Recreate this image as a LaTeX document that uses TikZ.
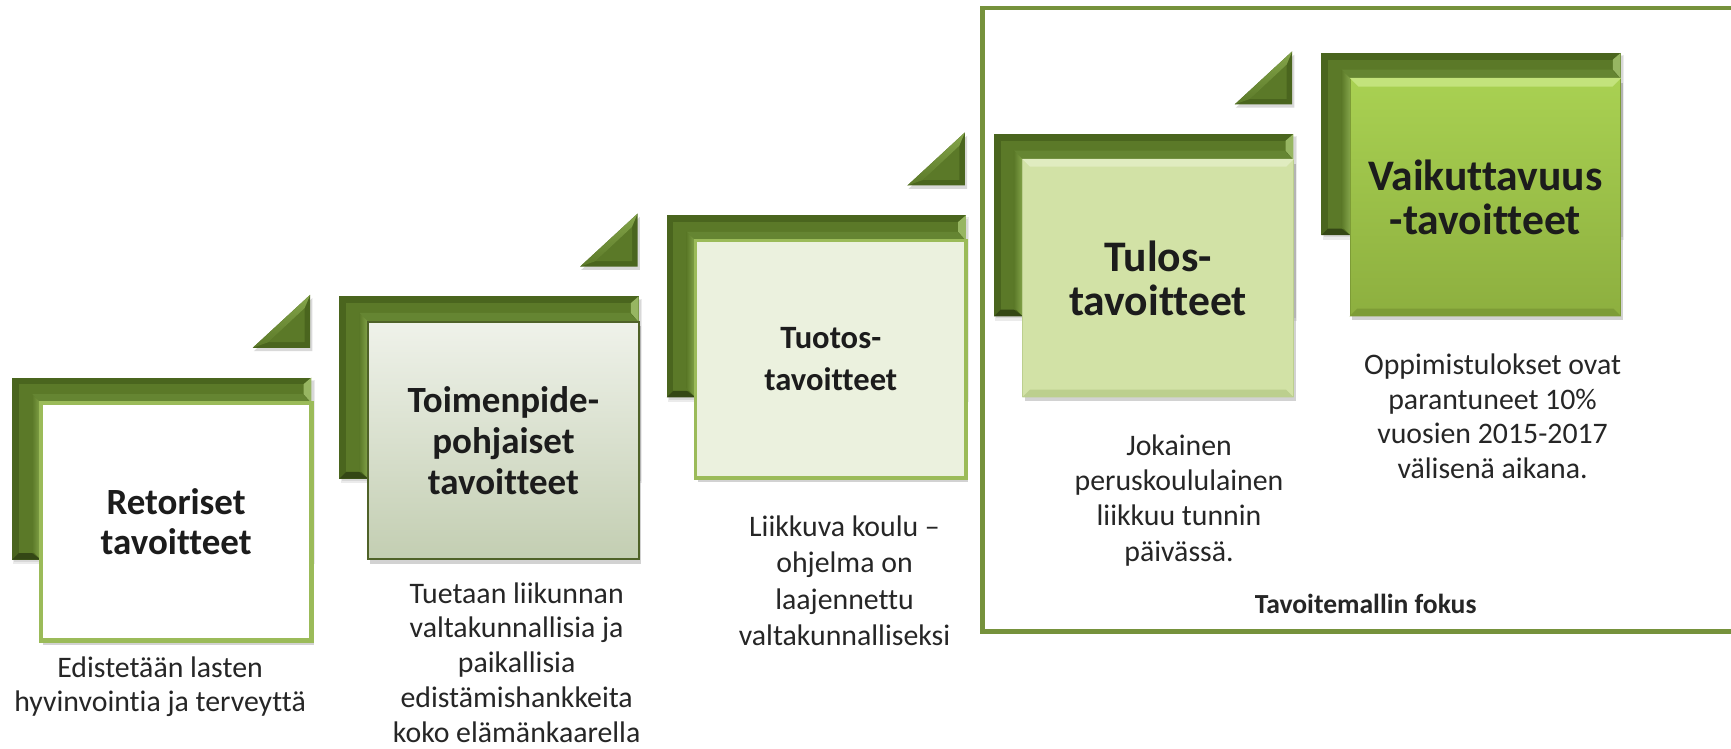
\documentclass[tikz,border=0pt]{standalone}
\usepackage{fontspec}
\setmainfont{Carlito}[Ligatures={NoCommon}]
\usetikzlibrary{shadows,calc}
\definecolor{brkE}{HTML}{4A651E}
\definecolor{brkF}{HTML}{5B7928}
\definecolor{brkT}{HTML}{658532}
\definecolor{brkL}{HTML}{84A54A}
\definecolor{brkC}{HTML}{97B662}
\definecolor{framec}{HTML}{76923C}
\definecolor{lgreen}{HTML}{9BBB59}
\definecolor{titlec}{HTML}{1C1C1C}
\definecolor{descc}{HTML}{262626}
\definecolor{btwo}{HTML}{4F6228}
\definecolor{btwotop}{HTML}{EFF2EA}
\definecolor{btwobot}{HTML}{C3CEB2}
\definecolor{bthree}{HTML}{EBF1DE}
\definecolor{bfour}{HTML}{D2E2A6}
\definecolor{bfourhi}{HTML}{E0ECC0}
\definecolor{bfourlo}{HTML}{BCCF8E}
\definecolor{bfivetop}{HTML}{A9D152}
\definecolor{bfivebot}{HTML}{8DAF3F}
\definecolor{bfivehi}{HTML}{C3E37C}
\definecolor{bfivelo}{HTML}{7D9C36}
\newcommand{\stepbracket}[3]{%
\begin{scope}[shift={(#1,#2)}]
  \fill[black,opacity=.08] (1,2) rectangle (274,169);
  \fill[black,opacity=.08] (2,3) rectangle (273,167);
  \fill[brkE] (0,0) rectangle (271,165);
  \fill[brkF] (6,6) rectangle (265,159);
  \fill[brkT] (18,15) -- (263,15) -- (271,23) -- (26,23) -- cycle;
  \shade[left color=brkF, right color=brkL] (18,15) -- (26,23) -- (26,165) -- (18,157) -- cycle;
  \fill[brkC] (264,6) -- (271,0) -- (271,23) -- (264,15) -- cycle;
  \fill[black!30!brkE] (0,165) -- (6,159) -- (18,159) -- (26,165) -- cycle;
  \ifnum#3=1
    \fill[black,opacity=.15] (219,-24) -- (272,-24) -- (272,-72) -- cycle;
    \fill[brkE] (218,-27) -- (270,-27) -- (270,-75) -- cycle;
    \fill[brkF] (232,-32) -- (265,-32) -- (265,-63) -- cycle;
    \shade[top color=brkL, bottom color=brkF] (218,-27) -- (270,-75) -- (265,-63) -- (232,-32) -- cycle;
  \fi
\end{scope}}
\tikzset{
  boxbase/.style={minimum width=245pt, minimum height=215pt, inner sep=0pt, align=center,
    text=titlec, drop shadow={shadow xshift=2pt, shadow yshift=-4pt, opacity=.25, fill=black!70}},
  ttl/.style={font=\bfseries\fontsize{33.5}{37}\selectfont},
  ttlsmall/.style={font=\bfseries\fontsize{29.5}{38}\selectfont},
  ttlbig/.style={font=\bfseries\fontsize{39.5}{40}\selectfont},
  desc/.style={align=center, text=descc, inner sep=0pt},
  fokus/.style={font=\bfseries\fontsize{25}{28}\selectfont, text=descc, inner sep=0pt},
}
\begin{document}
\begin{tikzpicture}[x=1pt,y=-1pt]
\useasboundingbox (0,0) rectangle (1568,678.4);
\fill[white] (0,0) rectangle (1568,678.4);
% focus frame
\node[draw=framec, line width=4pt, minimum width=685pt, minimum height=565pt, inner sep=0pt] (frame) at (1232.5,289.5) {};
% brackets and triangles
\stepbracket{11}{342}{1}
\stepbracket{307.5}{268.5}{1}
\stepbracket{604}{195}{1}
\stepbracket{900.5}{121.5}{1}
\stepbracket{1197}{48}{0}
% boxes
\node[boxbase, ttl, fill=white, draw=lgreen, line width=4pt] (b1) at (159.5,472.5) {Retoriset\\tavoitteet};
\node[boxbase, ttl, top color=btwotop, bottom color=btwobot, draw=btwo, line width=2pt] (b2) at (456,399) {Toimenpide-\\pohjaiset\\tavoitteet};
\node[boxbase, ttlsmall, fill=bthree, draw=lgreen, line width=3pt] (b3) at (752.5,325.5) {Tuotos-\\tavoitteet};
\node[boxbase, ttlbig, fill=bfour, draw=bfourlo, line width=1pt] (b4) at (1049,252) {};
\fill[bfourhi] (b4.north west) -- (b4.north east) -- ($(b4.north east)+(-7,7)$) -- ($(b4.north west)+(7,7)$) -- cycle;
\fill[bfourlo] (b4.south west) -- (b4.south east) -- ($(b4.south east)+(-7,-7)$) -- ($(b4.south west)+(7,-7)$) -- cycle;
\node[ttlbig, text=titlec, align=center] (t4) at (b4.center) {Tulos-\\tavoitteet};
\node[boxbase, ttlbig, top color=bfivetop, bottom color=bfivebot, draw=bfivelo, line width=1pt] (b5) at (1345.5,178.5) {};
\fill[bfivehi] (b5.north west) -- (b5.north east) -- ($(b5.north east)+(-8,8)$) -- ($(b5.north west)+(8,8)$) -- cycle;
\fill[bfivelo] (b5.south west) -- (b5.south east) -- ($(b5.south east)+(-7,-7)$) -- ($(b5.south west)+(7,-7)$) -- cycle;
\node[ttlbig, text=titlec, align=center] (t5) at (b5.center) {Vaikuttavuus\\-tavoitteet};
% descriptions
\node[desc, font=\fontsize{27}{30}\selectfont] (d1) at (145,622) {Edistetään lasten\\hyvinvointia ja terveyttä};
\node[desc, font=\fontsize{27}{31.5}\selectfont] (d2) at (468,600) {Tuetaan liikunnan\\valtakunnallisia ja\\paikallisia\\edistämishankkeita\\koko elämänkaarella};
\node[desc, font=\fontsize{27}{33}\selectfont] (d3) at (765,526) {Liikkuva koulu –\\ohjelma on\\laajennettu\\valtakunnalliseksi};
\node[desc, font=\fontsize{27}{32}\selectfont] (d4) at (1068,453) {Jokainen\\peruskoululainen\\liikkuu tunnin\\päivässä.};
\node[desc, font=\fontsize{27}{31.5}\selectfont] (d5) at (1352,377) {Oppimistulokset ovat\\parantuneet 10\%\\vuosien 2015-2017\\välisenä aikana.};
\node[fokus] (fk) at (1237,547) {Tavoitemallin fokus};
\end{tikzpicture}
\end{document}
